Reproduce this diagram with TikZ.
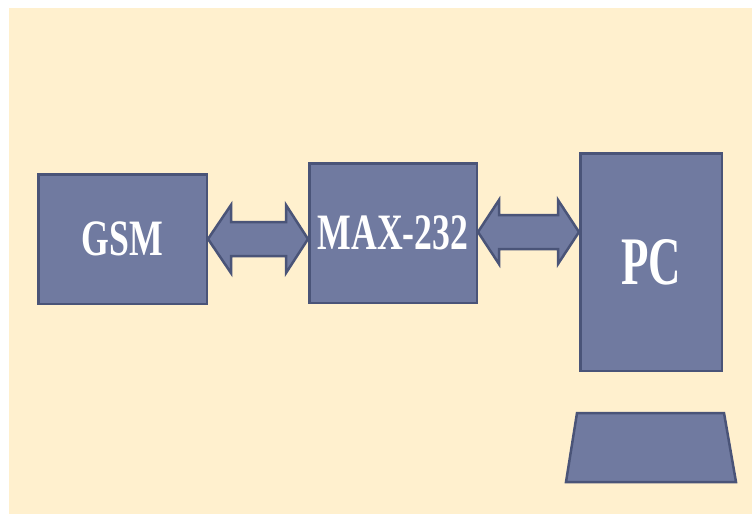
\documentclass[tikz,border=0pt]{standalone}
\usepackage{fontspec}
\setmainfont{Liberation Serif}
\newfontfamily\labelfont[FakeStretch=0.70]{Liberation Serif Bold}
\newfontfamily\pclabelfont[FakeStretch=0.66]{Liberation Serif Bold}
\usetikzlibrary{calc}
\definecolor{paper}{HTML}{FFF0CE}
\definecolor{slate}{HTML}{707AA0}
\definecolor{slateedge}{HTML}{4A5478}
\tikzset{
  unitbox/.style={draw=slateedge, fill=slate, line width=2.5pt, text=white,
    inner sep=0pt, font=\labelfont\fontsize{51}{51}\selectfont},
  blockarrow/.style={draw=slateedge, fill=slate, line width=2.5pt, line join=miter},
}
\begin{document}
\begin{tikzpicture}[x=1pt, y=-1pt]
  \useasboundingbox (0,0) rectangle (752,514);
  \fill[paper] (9,8) rectangle (752,514);

  % units
  \node[unitbox, minimum width=168.5pt, minimum height=129.5pt] (gsm) at (122.5,239) {GSM};
  \node[unitbox, minimum width=167.5pt, minimum height=139.5pt] (max) at (393,233) {MAX-232};
  \node[unitbox, minimum width=141.5pt, minimum height=217.5pt,
        font=\pclabelfont\fontsize{68}{68}\selectfont] (pc) at (651,262) {PC};

  % monitor base under the PC
  \draw[blockarrow] (577,413) -- (724,413) -- (736,482) -- (566,482) -- cycle;

  % double-headed block arrows between the units
  \draw[blockarrow] let \p1 = (gsm.east), \p2 = (max.west |- gsm.east) in
    (\p1) -- (\x1+23pt,\y1+34pt) -- (\x1+23pt,\y1+17pt) -- (\x2-22pt,\y2+17pt)
    -- (\x2-22pt,\y2+34pt) -- (\p2) -- (\x2-22pt,\y2-34pt) -- (\x2-22pt,\y2-17pt)
    -- (\x1+23pt,\y1-17pt) -- (\x1+23pt,\y1-34pt) -- cycle;
  \draw[blockarrow] let \p1 = ($(max.east)+(0,-1)$), \p2 = (pc.west |- \p1) in
    (\p1) -- (\x1+21pt,\y1+32pt) -- (\x1+21pt,\y1+17pt) -- (\x2-21pt,\y2+17pt)
    -- (\x2-21pt,\y2+32pt) -- (\p2) -- (\x2-21pt,\y2-32pt) -- (\x2-21pt,\y2-17pt)
    -- (\x1+21pt,\y1-17pt) -- (\x1+21pt,\y1-32pt) -- cycle;
\end{tikzpicture}
\end{document}
